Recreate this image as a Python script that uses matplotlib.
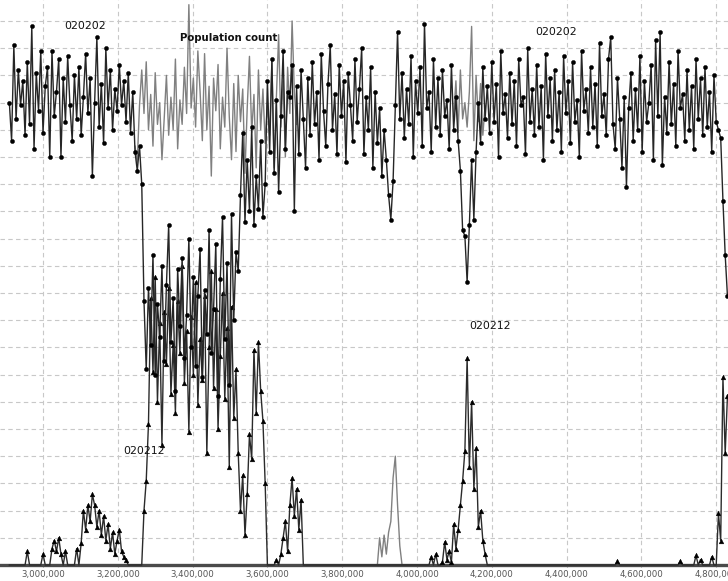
# Population count along the chromosome, two haplotypes 020202 / 020212

import numpy as np
import matplotlib.pyplot as plt

# positions: one sample every 6 kb starting at 2.91 Mb
start_bp = 2_910_000
step_bp = 6_000

# haplotype 020202 (circles)
hap_020202 = [
    17.0, 15.6, 19.1, 16.4, 18.2, 16.9, 17.8, 15.8, 18.5, 16.2,
    19.8, 15.3, 18.1, 16.7, 18.9, 15.9, 17.6, 18.3, 15.0, 18.9,
    16.5, 17.4, 18.6, 15.0, 17.9, 16.3, 18.7, 16.9, 15.6, 18.0,
    16.4, 18.3, 15.8, 17.2, 18.8, 16.6, 17.9, 14.3, 17.0, 19.4,
    16.1, 17.7, 15.5, 19.0, 16.8, 18.2, 16.0, 17.5, 16.7, 18.4,
    16.9, 17.8, 16.3, 18.1, 15.9, 17.4, 15.2, 14.5,
    15.4, 14.0, 9.7, 7.2,
    10.2, 8.1, 11.4, 7.0, 9.6, 8.4, 11.0, 7.5, 10.3, 12.5,
    8.2, 9.8, 6.4, 10.9, 8.8, 11.3, 7.6, 9.2, 12.0, 8.0,
    10.6, 7.3, 9.9, 11.6, 6.9, 10.1, 8.5, 12.3, 7.8, 9.4,
    11.8, 6.2, 10.5, 12.8, 8.3, 11.1, 6.6, 12.9, 9.0, 11.5,
    10.8, 13.6, 15.9, 12.6, 14.9, 13.0, 16.1, 12.5, 14.3, 13.1, 15.6, 12.8, 14.0,
    17.8, 15.2, 18.6, 14.4, 17.1, 13.7, 16.5, 18.9, 15.3, 17.4,
    17.2, 18.4, 13.0, 17.6, 15.1, 18.2, 16.4, 14.6, 17.9, 15.8,
    18.5, 16.2, 17.4, 14.9, 18.8, 16.7, 15.4, 17.7, 19.1, 16.0,
    17.3, 15.1, 18.4, 16.5, 17.8, 14.8, 18.1, 16.9, 15.6, 18.6,
    16.3, 17.5, 19.0, 15.1, 17.2, 16.0, 18.3, 14.6, 17.4, 15.5,
    16.8, 14.3, 16.0, 14.9, 13.6, 12.7, 14.1, 16.9, 19.6, 16.4,
    18.1, 15.7, 17.5, 16.2, 18.7, 15.0, 17.8, 16.6, 18.3, 15.4,
    19.9, 16.8, 17.4, 15.2, 18.6, 16.1, 17.9, 15.8, 18.2, 16.5,
    17.1, 15.3, 18.4, 16.0, 17.2, 15.6, 14.5, 12.3, 12.1, 10.4,
    12.5, 14.9, 12.7, 15.2, 17.0, 15.5, 18.3, 16.4, 17.6, 15.9,
    18.5, 16.3, 17.7, 15.0, 18.9, 16.6, 17.3, 15.7, 18.1, 16.2,
    17.8, 15.4, 18.6, 16.9, 17.2, 15.1, 19.0, 16.3, 17.5, 15.8,
    18.4, 16.1, 17.6, 14.9, 18.8, 16.5, 17.9, 15.6, 18.2, 16.0,
    17.4, 15.2, 18.7, 16.6, 17.8, 15.5, 18.5, 16.3, 17.1, 15.0,
    18.9, 16.7, 17.5, 15.9, 18.3, 16.1, 17.7, 15.4, 19.2, 16.5,
    17.3, 15.8, 18.6, 19.4, 16.2, 15.3, 17.9, 16.4, 14.6, 17.2,
    13.9, 16.8, 18.1, 15.6, 17.5, 16.0, 18.7, 15.2, 17.8, 16.3,
    17.0, 18.4, 14.9, 19.3, 16.5, 19.6, 14.7, 17.2, 15.9, 18.5,
    16.2, 17.7, 15.4, 18.9, 16.8, 17.3, 15.6, 18.2, 16.0, 17.6,
    15.3, 18.6, 16.4, 17.9, 15.8, 18.3, 16.1, 17.4, 15.2, 18.0,
    16.3, 16.0, 15.7, 13.4, 11.4, 9.9,
]

# haplotype 020212 (triangles)
hap_020212 = [
    0, 0, 0, 0, 0, 0, 0, 0, 0.5, 0,
    0, 0, 0, 0, 0, 0.4, 0, 0, 0, 0.6,
    0.9, 0.5, 1.0, 0.4, 0, 0.5, 0, 0, 0, 0,
    0.6, 0, 0.8, 2.0, 1.3, 2.2, 1.6, 2.6, 2.2, 1.4,
    2.0, 1.1, 1.8, 0.9, 1.5, 0.6, 1.2, 0.4, 0.9, 1.3,
    0.5, 0.3, 0.2, 0, 0, 0, 0, 0, 0, 0,
    2.0, 3.1,
    5.2, 9.8, 7.1, 10.6, 6.0, 8.9, 4.4, 9.3, 7.4, 10.2,
    6.3, 8.1, 5.6, 9.7, 7.8, 11.0, 6.7, 8.6, 4.9, 9.1,
    7.0, 10.4, 5.9, 8.3, 6.8, 9.9, 4.1, 8.0, 10.8, 6.5,
    9.4, 5.0, 7.7, 10.0, 6.1, 8.7, 3.6, 9.5, 5.4, 7.2,
    4.1, 2.0, 3.3, 1.1, 2.6, 4.8, 3.9, 7.9, 5.6, 8.2, 6.4, 5.3, 3.0,
    0, 0, 0, 0, 0.2,
    0, 0.4, 1.0, 1.6, 0.5, 2.2, 3.2, 1.8, 2.8, 1.3, 2.4,
    0, 0, 0, 0, 0, 0, 0, 0, 0, 0,
    0, 0, 0, 0, 0, 0, 0, 0, 0, 0,
    0, 0, 0, 0, 0, 0, 0, 0, 0, 0,
    0, 0, 0, 0, 0, 0, 0, 0, 0, 0,
    0, 0, 0, 0, 0, 0, 0, 0, 0, 0,
    0, 0, 0, 0, 0, 0, 0,
    0.3, 0, 0.4, 0, 0, 0.1, 0.85, 0.2, 0.5, 0.1,
    1.5, 0.6, 1.3, 2.2, 3.1, 4.2, 7.6, 3.6, 6.0, 2.8,
    4.3, 1.4, 2.0, 0.9, 0.4,
    0, 0, 0, 0, 0, 0, 0, 0, 0, 0,
    0, 0, 0, 0, 0, 0, 0, 0, 0, 0,
    0, 0, 0, 0, 0, 0, 0, 0, 0, 0,
    0, 0, 0, 0, 0, 0, 0, 0, 0, 0,
    0, 0, 0, 0, 0, 0, 0, 0, 0, 0,
    0, 0, 0, 0, 0, 0, 0, 0, 0.15, 0,
    0, 0, 0, 0, 0, 0, 0, 0, 0, 0,
    0, 0, 0, 0, 0, 0, 0, 0, 0, 0,
    0, 0, 0, 0, 0, 0, 0.15, 0, 0, 0,
    0, 0, 0, 0.35, 0, 0.2, 0, 0, 0, 0,
    0.3, 0, 0,
    1.9, 0.9, 6.9, 4.1, 6.2,
]

# total population count (grey), only where it shows above 020202
total_a_start = 56
total_a = [
    15.4, 14.8, 16.9, 18.2, 16.6, 18.5, 16.0, 17.3, 15.4, 18.1,
    16.2, 17.0, 14.9, 16.4, 18.0, 15.8, 17.2, 16.0, 18.6, 15.3,
    17.1, 16.2, 18.3, 16.6, 20.6, 16.8, 17.9, 16.1, 18.9, 17.4,
    15.6, 18.8, 16.0, 17.6, 14.3, 17.9, 16.7, 18.4, 15.3, 17.2,
    16.1, 19.0, 16.5, 14.9, 17.7, 15.2, 18.0, 16.3, 17.5, 14.4,
    16.8, 18.7, 15.9, 17.3, 14.6, 18.2, 16.0, 17.5, 15.5, 17.0,
    15.8, 18.5, 14.6, 17.2, 19.5, 16.1, 17.8, 15.0, 18.3, 16.6, 20.0, 17.4, 16.2,
]
total_b_start = 198
total_b = [16.5, 17.8, 15.9, 18.2, 16.4, 17.0, 16.1, 17.4, 19.8, 15.6,
           18.0, 16.3, 17.7, 15.8, 16.9]

# third population, small bump near 3.93 Mb (grey)
other_start = 163
other_pop = [0, 0, 1.0, 0.3, 1.1, 0.4, 1.2, 1.6, 3.2, 4.0, 2.2, 0.7, 0]

tick_pos = [3_000_000, 3_200_000, 3_400_000, 3_600_000, 3_800_000,
            4_000_000, 4_200_000, 4_400_000, 4_600_000, 4_800_000]


def positions(first, n):
    return start_bp + step_bp * (first + np.arange(n))


x_all = positions(0, len(hap_020202))
y_202 = np.array(hap_020202)
y_212 = np.array(hap_020212, dtype=float)

fig = plt.figure(figsize=(7.28, 5.81), dpi=100)
ax = fig.add_axes([0, 13 / 581, 1, 568 / 581])

# grey lines underneath
ax.plot(positions(total_a_start, len(total_a)), total_a, color='#808080', lw=1.0, zorder=2)
ax.plot(positions(total_b_start, len(total_b)), total_b, color='#808080', lw=1.0, zorder=2)
ax.plot(positions(other_start, len(other_pop)), other_pop, color='#808080', lw=1.0, zorder=2)
ax.axhline(0, color='#4a4a4a', lw=2.4, zorder=2.5)

# haplotype 020212, markers only where non zero
marks_212 = [i for i, v in enumerate(hap_020212) if v > 0]
ax.plot(x_all, y_212, color='#2b2b2b', lw=1.0, marker='^', markersize=3.4,
        markevery=marks_212, markerfacecolor='black', markeredgecolor='black',
        markeredgewidth=0.3, zorder=3)

# haplotype 020202
ax.plot(x_all, y_202, color='#262626', lw=1.0, marker='o', markersize=3.0,
        markerfacecolor='black', markeredgecolor='black', markeredgewidth=0.3, zorder=4)

# labels
ax.text(3_112_000, 19.8, '020202', fontsize=7.8, color='#111111', ha='center', va='center')
ax.text(4_371_000, 19.6, '020202', fontsize=7.8, color='#111111', ha='center', va='center')
ax.text(3_497_000, 19.37, 'Population count', fontsize=7.3, fontweight='bold',
        color='#111111', ha='center', va='center')
ax.text(3_270_000, 4.2, '020212', fontsize=7.8, color='#111111', ha='center', va='center')
ax.text(4_195_000, 8.8, '020212', fontsize=7.8, color='#111111', ha='center', va='center')

ax.set_xlim(2_885_000, 2_885_000 + 728 / 74.8 * 200_000)
ax.set_ylim(-3 / 27.2, 565 / 27.2)
ax.set_xticks(tick_pos)
ax.set_xticklabels([f'{t:,}' for t in tick_pos])
ax.set_yticks(range(0, 21))
ax.set_yticklabels([])
ax.grid(True, linestyle=(0, (4, 3)), color='#c8c8c8', lw=0.8, zorder=0)
ax.set_axisbelow(True)
ax.tick_params(length=0, labelsize=6.2, labelcolor='#555555', pad=1.5)
for s in ax.spines.values():
    s.set_visible(False)

fig.savefig('out.png', dpi=100)
